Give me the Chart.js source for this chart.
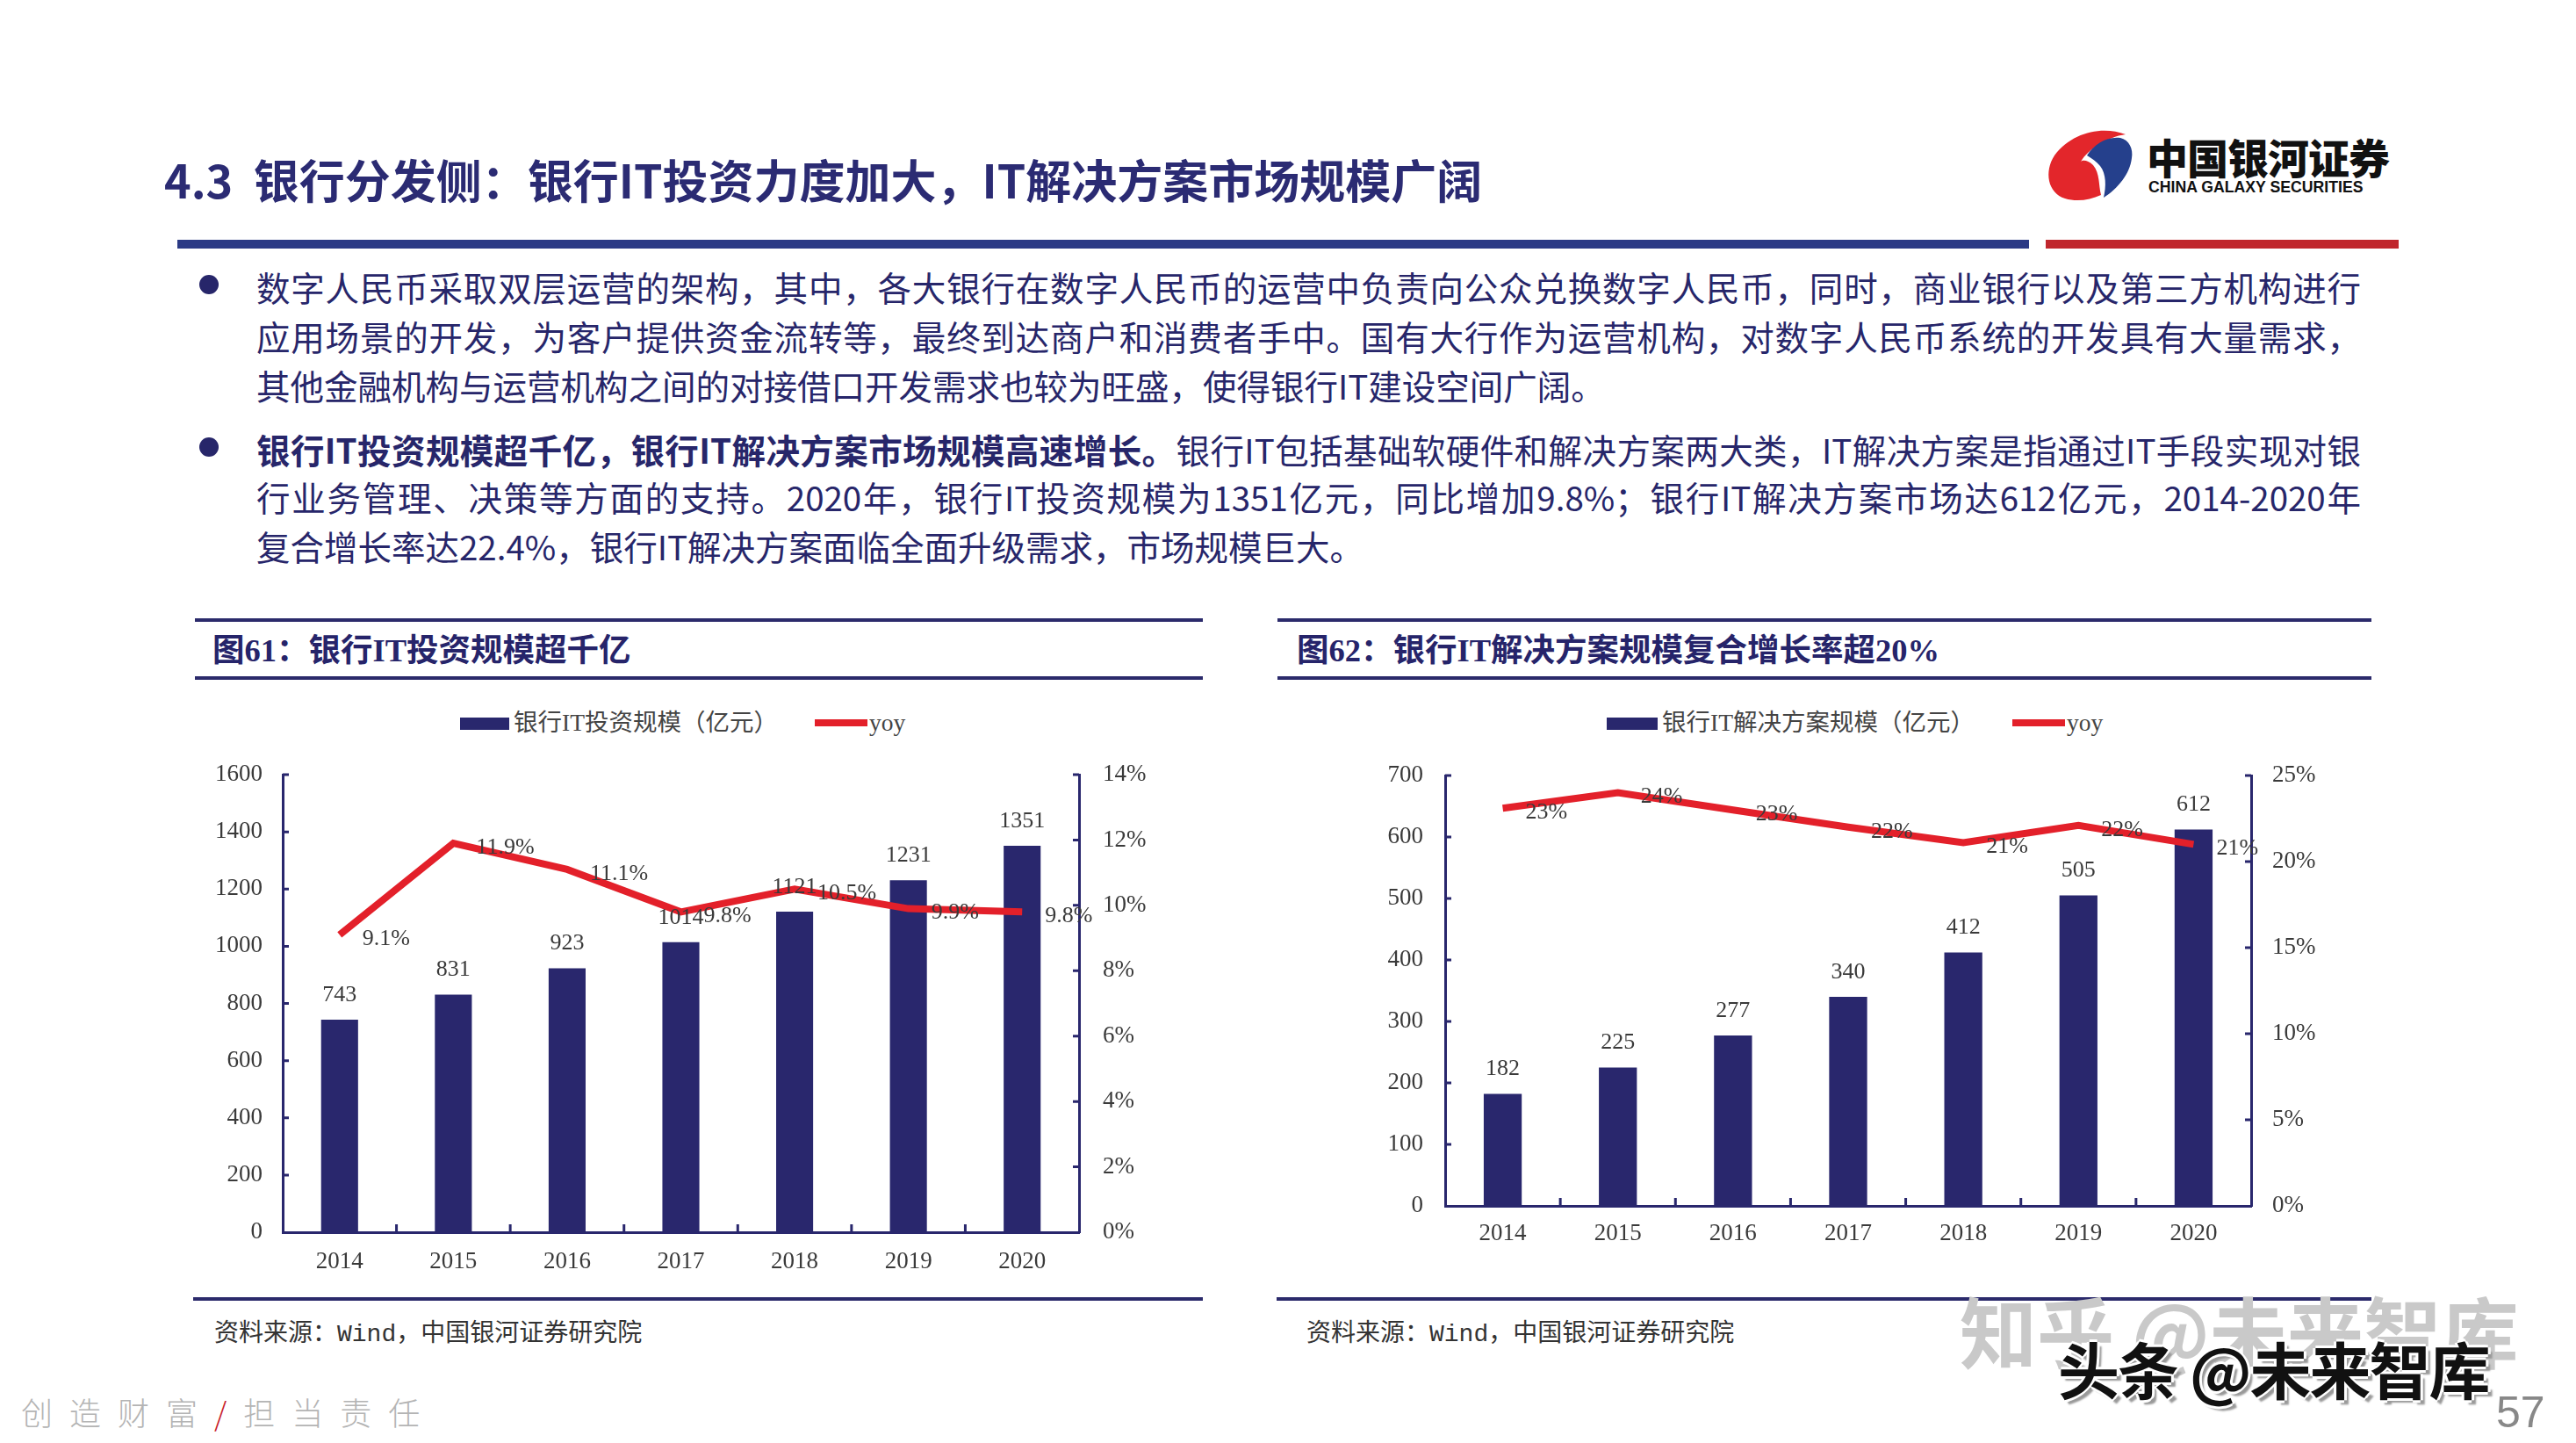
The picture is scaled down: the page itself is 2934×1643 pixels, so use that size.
<!DOCTYPE html>
<html>
<head>
<meta charset="utf-8">
<script src="https://cdn.jsdelivr.net/npm/chart.js@4/dist/chart.umd.min.js"></script>
<style>
  html, body { margin: 0; padding: 0; background: #fff; }
  #page { position: relative; width: 2934px; height: 1643px; overflow: hidden; background: #fff;
    font-family: "Noto Sans CJK SC", "Noto Sans", sans-serif; color: #27266a; }
  .abs { position: absolute; white-space: nowrap; }
  .rule { position: absolute; background: #2b2a6b; }
  .line { position: absolute; left: 292px; width: 2397px; font-size: 38.5px; line-height: 56px; color: #27266a; white-space: nowrap; }
  .just { text-align: justify; text-align-last: justify; }
  .dot { position: absolute; width: 22px; height: 22px; border-radius: 50%; background: #27266a; }
  .ctitle { position: absolute; font-family: "Liberation Serif", "Noto Sans CJK SC", serif; font-weight: bold; font-size: 36.5px; line-height: 40px; color: #26246a; white-space: nowrap; }
  .legtxt { position: absolute; font-family: "Liberation Serif", "Noto Sans CJK SC", serif; font-size: 27.5px; line-height: 30px; color: #444; white-space: nowrap; }
  .src { position: absolute; font-family: "Noto Sans CJK SC", sans-serif; font-size: 28px; line-height: 32px; color: #333; white-space: nowrap; }
  .src .mono { font-family: "Liberation Mono", monospace; }
  canvas { position: absolute; }
</style>
</head>
<body>
<div id="page">
  <!-- header -->
  <div class="abs" style="left:187px; top:174px; font-size:52px; line-height:60px; font-weight:700; color:#2b2b73;">4.3&nbsp; 银行分发侧：银行IT投资力度加大，IT解决方案市场规模广阔</div>
  <div class="rule" style="left:202px; top:273px; width:2109px; height:10px; background:#2b3a85;"></div>
  <div class="rule" style="left:2330px; top:273px; width:402px; height:10px; background:#c0272d;"></div>

  <svg class="abs" style="left:2320px; top:140px;" width="120" height="100" viewBox="0 0 120 100">
    <path d="M101 13 C75 3 40 10 20 37 C8 55 12 80 32 86 C45 90 60 88 73 82 C70 70 72 58 64 48 C58 42 52 42 50 44 C58 30 80 16 101 13 Z" fill="#e3262b"/>
    <path d="M57 37 C65 24 80 15 95 17 C105 19 110 30 108 40 C106 58 92 75 76 85 C79 72 79 58 72 49 C68 44 62 40 57 37 Z" fill="#25408c"/>
  </svg>
  <div class="abs" style="left:2445px; top:150px; font-size:47px; line-height:56px; font-weight:900; color:#111; letter-spacing:-1px;">中国银河证券</div>
  <div class="abs" style="left:2447px; top:202px; font-family:'Liberation Sans Narrow','Liberation Sans',sans-serif; font-size:19px; line-height:22px; font-weight:bold; color:#111; transform:scaleX(0.93); transform-origin:left;">CHINA GALAXY SECURITIES</div>

  <!-- bullets -->
  <div class="dot" style="left:227px; top:313px;"></div>
  <div class="dot" style="left:227px; top:498px;"></div>
  <div class="line just" style="top:298px;">数字人民币采取双层运营的架构，其中，各大银行在数字人民币的运营中负责向公众兑换数字人民币，同时，商业银行以及第三方机构进行</div>
  <div class="line just" style="top:354px;">应用场景的开发，为客户提供资金流转等，最终到达商户和消费者手中。国有大行作为运营机构，对数字人民币系统的开发具有大量需求，</div>
  <div class="line" style="top:410px;">其他金融机构与运营机构之间的对接借口开发需求也较为旺盛，使得银行IT建设空间广阔。</div>
  <div class="line just" style="top:483px;"><b>银行IT投资规模超千亿，银行IT解决方案市场规模高速增长。</b>银行IT包括基础软硬件和解决方案两大类，IT解决方案是指通过IT手段实现对银</div>
  <div class="line just" style="top:537px;">行业务管理、决策等方面的支持。2020年，银行IT投资规模为1351亿元，同比增加9.8%；银行IT解决方案市场达612亿元，2014-2020年</div>
  <div class="line" style="top:593px;">复合增长率达22.4%，银行IT解决方案面临全面升级需求，市场规模巨大。</div>

  <!-- chart 1 frame -->
  <div class="rule" style="left:222px; top:704px; width:1148px; height:4px;"></div>
  <div class="ctitle" style="left:242px; top:721px;">图61：银行IT投资规模超千亿</div>
  <div class="rule" style="left:222px; top:770px; width:1148px; height:4px;"></div>
  <div class="abs" style="left:524px; top:817px; width:56px; height:14px; background:#29276d;"></div>
  <div class="legtxt" style="left:585px; top:808px;">银行IT投资规模（亿元）</div>
  <div class="abs" style="left:928px; top:819px; width:60px; height:8px; background:#e3202a;"></div>
  <div class="legtxt" style="left:990px; top:808px;">yoy</div>
  <canvas id="c1" width="1148" height="600" style="left:222px; top:860px;"></canvas>
  <div class="rule" style="left:220px; top:1477px; width:1150px; height:4px;"></div>
  <div class="src" style="left:244px; top:1499px;">资料来源：<span class="mono">Wind</span>，中国银河证券研究院</div>

  <!-- chart 2 frame -->
  <div class="rule" style="left:1455px; top:704px; width:1246px; height:4px;"></div>
  <div class="ctitle" style="left:1477px; top:721px;">图62：银行IT解决方案规模复合增长率超20%</div>
  <div class="rule" style="left:1455px; top:770px; width:1246px; height:4px;"></div>
  <div class="abs" style="left:1830px; top:817px; width:58px; height:14px; background:#29276d;"></div>
  <div class="legtxt" style="left:1893px; top:808px;">银行IT解决方案规模（亿元）</div>
  <div class="abs" style="left:2292px; top:819px; width:60px; height:8px; background:#e3202a;"></div>
  <div class="legtxt" style="left:2354px; top:808px;">yoy</div>
  <canvas id="c2" width="1246" height="580" style="left:1455px; top:860px;"></canvas>
  <div class="rule" style="left:1454px; top:1477px; width:1247px; height:4px;"></div>
  <div class="src" style="left:1488px; top:1499px;">资料来源：<span class="mono">Wind</span>，中国银河证券研究院</div>

  <!-- footer -->
  <div class="abs" style="left:24px; top:1585px; font-size:36px; line-height:44px; font-weight:300; color:#b4b4b4; letter-spacing:19px;">创造财富<span style="color:#c8202a;">/</span>担当责任</div>
  <div class="abs" style="left:2232px; top:1458px; font-size:88px; line-height:110px; font-weight:700; color:#c9c9c9;">知乎 @未来智库</div>
  <div class="abs" style="left:2344px; top:1516px; font-size:70px; line-height:84px; font-weight:700; color:#111; letter-spacing:-2px;
    text-shadow: 3px 0 0 #fff, -3px 0 0 #fff, 0 3px 0 #fff, 0 -3px 0 #fff, 5px 5px 2px #999;">头条 @未来智库</div>
  <div class="abs" style="left:2843px; top:1578px; font-family:'Liberation Sans Narrow','Liberation Sans',sans-serif; font-size:50px; line-height:60px; color:#888;">57</div>
</div>

<script>
const years = ["2014", "2015", "2016", "2017", "2018", "2019", "2020"];

// 图61 银行IT投资规模（亿元） / yoy (%)
const itInvest = [743, 831, 923, 1014, 1121, 1231, 1351];
const itInvestYoy = [9.1, 11.9, 11.1, 9.8, 10.5, 9.9, 9.8];

// 图62 银行IT解决方案规模（亿元） / yoy (%)
const itSolution = [182, 225, 277, 340, 412, 505, 612];
const itSolutionYoy = [23.1, 24.0, 23.0, 22.0, 21.1, 22.1, 21.0];

const NAVY = "#29276d";
const RED = "#e3202a";
const LABEL = "#3a3a3a";
const SERIF = "'Liberation Serif', 'Times New Roman', serif";

// value labels above bars and to the right of line points
const valueLabels = {
  id: "valueLabels",
  afterDatasetsDraw(chart, args, opts) {
    const ctx = chart.ctx;
    ctx.save();
    ctx.font = "26px " + SERIF;
    ctx.fillStyle = LABEL;
    ctx.textBaseline = "middle";
    chart.data.datasets.forEach((ds, di) => {
      const meta = chart.getDatasetMeta(di);
      meta.data.forEach((el, i) => {
        if (ds.type === "line") {
          ctx.textAlign = "left";
          ctx.fillText(opts.fmt(ds.data[i]), el.x + 26, el.y + 5);
        } else {
          ctx.textAlign = "center";
          ctx.fillText(String(ds.data[i]), el.x, el.y - 28);
        }
      });
    });
    ctx.restore();
  },
};

// short tick marks pointing into the plot
const innerTicks = {
  id: "innerTicks",
  afterDraw(chart) {
    const ctx = chart.ctx;
    const { y, y1, x } = chart.scales;
    const area = chart.chartArea;
    ctx.save();
    ctx.strokeStyle = NAVY;
    ctx.lineWidth = 3;
    ctx.beginPath();
    y.ticks.forEach((t, i) => {
      if (i === 0) return;
      const py = y.getPixelForTick(i);
      ctx.moveTo(area.left, py);
      ctx.lineTo(area.left + 7, py);
    });
    y1.ticks.forEach((t, i) => {
      if (i === 0) return;
      const py = y1.getPixelForTick(i);
      ctx.moveTo(area.right - 7, py);
      ctx.lineTo(area.right, py);
    });
    for (let i = 0; i < x.ticks.length - 1; i++) {
      const px = (x.getPixelForTick(i) + x.getPixelForTick(i + 1)) / 2;
      ctx.moveTo(px, area.bottom);
      ctx.lineTo(px, area.bottom - 9);
    }
    ctx.stroke();
    ctx.restore();
  },
};

// fix axis sizes so the plot area lands where the slide has it
function fixSize(prop, size) {
  return (s) => {
    s[prop] = size;
    s.paddingTop = 0;
    s.paddingBottom = 0;
    s.paddingLeft = 0;
    s.paddingRight = 0;
  };
}

function makeChart(id, bars, yoy, cfg) {
  const axisFont = { family: SERIF, size: 27 };
  return new Chart(document.getElementById(id), {
    type: "bar",
    data: {
      labels: years,
      datasets: [
        {
          type: "line",
          data: yoy,
          yAxisID: "y1",
          borderColor: RED,
          backgroundColor: RED,
          borderWidth: 8,
          pointRadius: 0,
          tension: 0,
          order: 0,
        },
        {
          type: "bar",
          data: bars,
          yAxisID: "y",
          backgroundColor: NAVY,
          categoryPercentage: 1,
          barPercentage: cfg.barPct,
          order: 1,
        },
      ],
    },
    options: {
      responsive: false,
      animation: false,
      devicePixelRatio: 1,
      layout: { padding: { top: cfg.padTop, left: 0, right: 0, bottom: 0 } },
      plugins: {
        legend: { display: false },
        title: { display: false },
        tooltip: { enabled: false },
        valueLabels: { fmt: cfg.fmt },
      },
      scales: {
        x: {
          grid: { display: false, drawTicks: false },
          border: { color: NAVY, width: 3 },
          ticks: { color: LABEL, font: axisFont, padding: cfg.xPad, maxRotation: 0 },
          afterFit: fixSize("height", cfg.xH),
        },
        y: {
          position: "left",
          min: 0, max: cfg.yMax,
          grid: { display: false, drawTicks: false },
          border: { color: NAVY, width: 3 },
          ticks: { stepSize: cfg.yStep, color: LABEL, font: axisFont, padding: cfg.yPad, callback: (v) => String(v) },
          afterFit: fixSize("width", cfg.yW),
        },
        y1: {
          position: "right",
          min: 0, max: cfg.y1Max,
          grid: { display: false, drawTicks: false },
          border: { color: NAVY, width: 3 },
          ticks: { stepSize: cfg.y1Step, color: LABEL, font: axisFont, padding: cfg.y1Pad, callback: (v) => v + "%" },
          afterFit: fixSize("width", cfg.y1W),
        },
      },
    },
    plugins: [valueLabels, innerTicks],
  });
}

makeChart("c1", itInvest, itInvestYoy, {
  barPct: 0.325, padTop: 22, xH: 57, xPad: 18,
  yMax: 1600, yStep: 200, yW: 100, yPad: 23,
  y1Max: 14, y1Step: 2, y1W: 141, y1Pad: 27,
  fmt: (v) => v.toFixed(1) + "%",
});

makeChart("c2", itSolution, itSolutionYoy, {
  barPct: 0.33, padTop: 23, xH: 67, xPad: 16,
  yMax: 700, yStep: 100, yW: 191, yPad: 25,
  y1Max: 25, y1Step: 5, y1W: 137, y1Pad: 24,
  fmt: (v) => Math.round(v) + "%",
});
</script>
</body>
</html>
